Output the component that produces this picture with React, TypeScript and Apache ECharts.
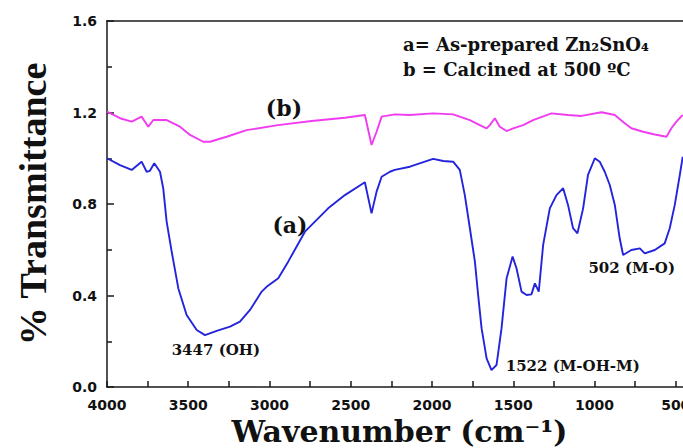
import React, { useEffect, useRef } from "react";
import * as echarts from "echarts";

// Curve (a): as-prepared Zn2SnO4
const wavenumberA = [4000,3920,3848,3787,3756,3736,3709,3674,3654,3633,3602,3561,3510,3448,3397,3325,3243,3182,3120,3048,3018,2946,2885,2782,2639,2536,2413,2372,2341,2310,2259,2229,2136,1993,1931,1870,1829,1798,1767,1736,1716,1695,1664,1634,1603,1572,1541,1504,1480,1449,1418,1388,1367,1343,1316,1275,1234,1193,1163,1132,1105,1070,1040,998,968,937,906,875,845,824,773,721,691,629,568,537,506,475,457];
const transmittanceA = [1.000,0.970,0.949,0.985,0.941,0.945,0.978,0.941,0.869,0.723,0.592,0.431,0.315,0.249,0.227,0.245,0.264,0.286,0.337,0.417,0.438,0.475,0.548,0.679,0.781,0.839,0.895,0.759,0.854,0.919,0.941,0.949,0.963,0.997,0.988,0.985,0.949,0.839,0.694,0.548,0.402,0.257,0.125,0.074,0.096,0.257,0.475,0.570,0.519,0.417,0.402,0.405,0.453,0.417,0.621,0.781,0.839,0.869,0.796,0.694,0.672,0.781,0.927,1.000,0.985,0.941,0.883,0.796,0.650,0.577,0.599,0.606,0.584,0.599,0.628,0.694,0.796,0.927,1.007];

// Curve (b): calcined at 500 °C
const wavenumberB = [4000,3920,3848,3787,3746,3715,3633,3551,3489,3408,3366,3264,3141,2948,2741,2536,2413,2372,2341,2310,2229,2136,1993,1870,1767,1706,1664,1644,1613,1583,1541,1501,1439,1378,1265,1163,1080,957,875,814,773,701,629,557,527,496,457];
const transmittanceB = [1.204,1.175,1.160,1.182,1.138,1.167,1.167,1.138,1.102,1.072,1.072,1.094,1.123,1.145,1.163,1.177,1.189,1.058,1.116,1.182,1.192,1.189,1.196,1.192,1.167,1.145,1.131,1.145,1.175,1.138,1.119,1.131,1.145,1.167,1.196,1.189,1.185,1.201,1.189,1.153,1.131,1.116,1.104,1.094,1.131,1.160,1.189];

const xMajorTicks = [500, 1000, 1500, 2000, 2500, 3000, 3500, 4000];
const xAllTicks = [500, 750, 1000, 1250, 1500, 1750, 2000, 2250, 2500, 2750, 3000, 3250, 3500, 3750, 4000];
const xMin = 400;
const xMax = 4000;
const yTop = 1.6;

const annotationTexts = ["(b)", "(a)", "3447 (OH)", "1522 (M-OH-M)", "502 (M-O)"];
const annotationX = [2911, 2874, 3330, 1134, 771];
const annotationY = [1.220, 0.708, 0.162, 0.092, 0.520];
const annotationSizes = [22, 22, 15, 15, 15];

const legendLines = ["a= As-prepared Zn\u2082SnO\u2084", "b = Calcined at 500 \u00BAC"];

export default function App() {
  const ref = useRef<HTMLDivElement>(null);
  useEffect(() => {
    if (!ref.current) return;
    const chart = echarts.init(ref.current, undefined, { renderer: "svg" });
    const axisColor = "#1a1a1a";
    const tickFont = { fontFamily: "'DejaVu Sans', sans-serif", fontWeight: "bold" as const, fontSize: 14, color: "#111" };
    chart.setOption({
      animation: false,
      backgroundColor: "#ffffff",
      grid: {
        left: 107, top: 21, width: 585, height: 366,
        outerBoundsMode: "none", containLabel: false,
        show: false,
      },
      xAxis: {
        type: "value", inverse: true, min: xMin, max: xMax,
        name: "Wavenumber (cm\u207B\u00B9)",
        nameLocation: "middle", nameGap: 28,
        nameTextStyle: { fontFamily: "'DejaVu Serif', serif", fontWeight: "bold", fontSize: 30, color: "#111" },
        axisLine: { show: true, lineStyle: { color: axisColor, width: 1.5 } },
        axisTick: { show: true, inside: true, length: 6, customValues: xAllTicks, lineStyle: { color: axisColor, width: 1.5 } },
        axisLabel: { show: true, customValues: xMajorTicks, margin: 11, formatter: (v: number) => String(v), ...tickFont },
        splitLine: { show: false },
      },
      yAxis: {
        type: "value", min: 0, max: yTop, interval: 0.4,
        name: "% Transmittance",
        nameLocation: "middle", nameGap: 55, nameRotate: 90,
        nameTextStyle: { fontFamily: "'Liberation Serif', serif", fontWeight: "bold", fontSize: 38, color: "#111" },
        axisLine: { show: true, lineStyle: { color: axisColor, width: 1.5 } },
        axisTick: { show: true, inside: true, length: 7, lineStyle: { color: axisColor, width: 1.5 } },
        minorTick: { show: true, splitNumber: 2, length: 5, lineStyle: { color: axisColor, width: 1.5 } },
        axisLabel: { formatter: (v: number) => v.toFixed(1), margin: 10, ...tickFont },
        splitLine: { show: false },
      },
      series: [
        {
          name: "a", type: "line", showSymbol: false, smooth: false,
          lineStyle: { color: "#2424dc", width: 1.9 },
          data: wavenumberA.map((w, i) => [w, transmittanceA[i]]),
        },
        {
          name: "b", type: "line", showSymbol: false, smooth: false,
          lineStyle: { color: "#f03cf0", width: 1.9 },
          data: wavenumberB.map((w, i) => [w, transmittanceB[i]]),
        },
        {
          name: "annotations", type: "scatter", symbolSize: 0, silent: true,
          itemStyle: { opacity: 1 },
          label: {
            show: true, position: "inside", formatter: "{b}",
            fontFamily: "'DejaVu Serif', serif", fontWeight: "bold", color: "#111",
            opacity: 1,
          },
          data: annotationTexts.map((t, i) => ({
            name: t, value: [annotationX[i], annotationY[i]],
            label: { fontSize: annotationSizes[i] },
          })),
        },
      ],
    });
    // top frame, placed through the axes' own scales
    const p0 = chart.convertToPixel({ gridIndex: 0 }, [xMax, yTop]) as number[];
    const p1 = chart.convertToPixel({ gridIndex: 0 }, [xMin, yTop]) as number[];
    const fx = Math.min(p0[0], p1[0]);
    const fw = Math.abs(p1[0] - p0[0]);
    chart.setOption({
      graphic: [
        {
          type: "rect", z: 100, silent: true,
          shape: { x: fx - 0.75, y: p0[1] - 0.75, width: fw, height: 1.6 },
          style: { fill: axisColor, stroke: "none" },
        },
        {
          type: "text", left: 403, top: 32, z: 100,
          style: {
            text: legendLines.join("\n"),
            font: "bold 18px 'DejaVu Serif', serif",
            lineHeight: 25, fill: "#111",
          },
        },
      ],
    });
    return () => chart.dispose();
  }, []);
  return <div ref={ref} style={{ position: "fixed", left: 0, top: 0, width: 683, height: 448 }} />;
}
